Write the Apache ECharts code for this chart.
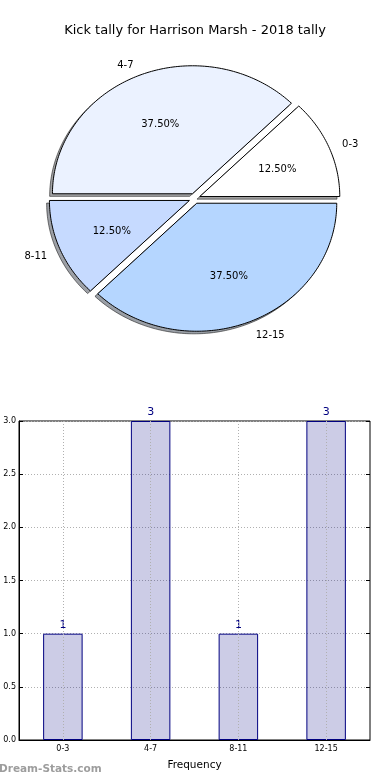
<!DOCTYPE html>
<html>
<head>
<meta charset="utf-8">
<script src="https://cdn.jsdelivr.net/npm/echarts@6/dist/echarts.min.js"></script>
<style>
html,body{margin:0;padding:0;background:#fff;}
#c{width:390px;height:780px;}
</style>
</head>
<body>
<div id="c"></div>
<script>
const titleText = 'Kick tally for Harrison Marsh - 2018 tally';
const categories = ['0-3', '4-7', '8-11', '12-15'];
const counts = [1, 3, 1, 3];
const yTickMax = 3;
const yTickStep = 0.5;

const pieColors = ['#ffffff', '#ebf2ff', '#c6daff', '#b5d6ff'];
const FONT = 'DejaVu Sans';

const chart = echarts.init(document.getElementById('c'), null, {renderer: 'canvas'});

// pie layout (ellipse, like the reference)
const PCX = 194.6, PCY = 198.5, RX = 140, RY = 128, EXPLODE = 0.04;
const SH_DX = -2.8, SH_DY = 2.6, TEXT_DY = 2;

function darken(hex) {
  const n = parseInt(hex.slice(1), 16);
  const r = Math.round(((n >> 16) & 255) * 0.3), g = Math.round(((n >> 8) & 255) * 0.3), b = Math.round((n & 255) * 0.3);
  return 'rgba(' + r + ',' + g + ',' + b + ',0.5)';
}

function renderWedge(params, api) {
  const i = params.dataIndex;
  const v = api.value(0);
  let total = 0, before = 0;
  for (let k = 0; k < counts.length; k++) { total += counts[k]; if (k < i) before += counts[k]; }
  const t1 = before / total * 360, t2 = (before + v) / total * 360;
  const mid = (t1 + t2) / 2 * Math.PI / 180;
  const ox = PCX + EXPLODE * RX * Math.cos(mid);
  const oy = PCY - EXPLODE * RY * Math.sin(mid);
  const pts = [[ox, oy]];
  const steps = Math.max(8, Math.ceil((t2 - t1)));
  for (let s = 0; s <= steps; s++) {
    const t = (t1 + (t2 - t1) * s / steps) * Math.PI / 180;
    pts.push([ox + RX * Math.cos(t), oy - RY * Math.sin(t)]);
  }
  const shPts = pts.map(p => [p[0] + SH_DX, p[1] + SH_DY]);
  const lx = ox + 1.1 * RX * Math.cos(mid);
  const ly = oy - 1.1 * RY * Math.sin(mid) + TEXT_DY;
  const px = ox + 0.6 * RX * Math.cos(mid);
  const py = oy - 0.6 * RY * Math.sin(mid) + TEXT_DY;
  const pct = (v / total * 100).toFixed(2) + '%';
  return {
    type: 'group',
    children: [
      {type: 'polygon', z2: 0, shape: {points: shPts}, style: {fill: darken(pieColors[i]), stroke: 'rgba(0,0,0,0.5)', lineWidth: 1}},
      {type: 'polygon', z2: 10, shape: {points: pts}, style: {fill: pieColors[i], stroke: '#000', lineWidth: 1}},
      {type: 'text', z2: 20, x: lx, y: ly, style: {text: categories[i], fill: '#000', font: '10px ' + FONT, align: Math.cos(mid) > 0 ? 'left' : 'right', verticalAlign: 'middle'}},
      {type: 'text', z2: 20, x: px, y: py, style: {text: pct, fill: '#000', font: '10px ' + FONT, align: 'center', verticalAlign: 'middle'}}
    ]
  };
}

const option = {
  animation: false,
  backgroundColor: '#fff',
  textStyle: {fontFamily: FONT},
  title: {
    text: titleText, left: 'center', top: 19,
    textStyle: {fontFamily: FONT, fontSize: 13, fontWeight: 'normal', color: '#000'}
  },
  graphic: [
    {type: 'text', left: -1, top: 764, style: {text: 'Dream-Stats.com', fill: '#9d9d9d', font: 'bold 10.5px ' + FONT}}
  ],
  grid: {left: 19, right: 20, top: 421, bottom: 40, show: true, borderColor: '#000', borderWidth: 1, backgroundColor: 'transparent'},
  xAxis: [
    {
      type: 'category', data: categories, position: 'bottom',
      name: 'Frequency', nameLocation: 'middle', nameGap: 20,
      nameTextStyle: {fontFamily: FONT, fontSize: 10.5, color: '#000'},
      axisLine: {lineStyle: {color: '#000'}},
      axisTick: {alignWithLabel: true, inside: true, length: 4, lineStyle: {color: '#000'}},
      axisLabel: {fontFamily: FONT, fontSize: 8, color: '#000', margin: 5},
      splitLine: {show: false}
    },
    {
      type: 'category', data: categories, position: 'top',
      axisLine: {show: false},
      axisTick: {alignWithLabel: true, inside: true, length: 4, lineStyle: {color: '#000'}},
      axisLabel: {show: false}
    }
  ],
  yAxis: [
    {
      type: 'value', min: 0, max: yTickMax, interval: yTickStep,
      axisLine: {show: true, lineStyle: {color: '#000'}},
      axisTick: {show: true, inside: true, length: 4, lineStyle: {color: '#000'}},
      axisLabel: {fontFamily: FONT, fontSize: 8, color: '#000', margin: 3, formatter: v => v.toFixed(1)},
      splitLine: {show: true, lineStyle: {color: '#b0b0b0', type: [1, 2], width: 1}}
    },
    {
      type: 'value', min: 0, max: yTickMax, interval: yTickStep, position: 'right',
      axisLine: {show: false},
      axisTick: {show: true, inside: true, length: 4, lineStyle: {color: '#000'}},
      axisLabel: {show: false},
      splitLine: {show: false}
    }
  ],
  series: [
    {
      type: 'custom', coordinateSystem: 'none', silent: true,
      data: counts.map(v => [v]),
      renderItem: renderWedge
    },
    {
      type: 'bar', data: counts, barWidth: '45%', xAxisIndex: 0, yAxisIndex: 0,
      itemStyle: {color: 'rgba(0,0,128,0.2)', borderColor: '#000080', borderWidth: 1},
      label: {show: true, position: 'top', distance: 3, color: '#000080', fontFamily: FONT, fontSize: 11},
      markLine: {
        silent: true, symbol: 'none', label: {show: false},
        lineStyle: {color: '#b0b0b0', type: [1, 2], width: 1},
        data: categories.map(c => ({xAxis: c}))
      }
    }
  ]
};
chart.setOption(option);
</script>
</body>
</html>
